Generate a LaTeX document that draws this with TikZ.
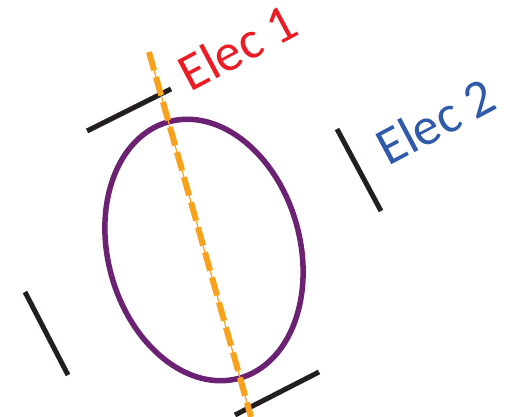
\documentclass[tikz,border=0pt]{standalone}
\usepackage{fontspec}
\setmainfont{Carlito}
\definecolor{elecred}{HTML}{ED1C24}
\definecolor{elecblue}{HTML}{2F5AAA}
\definecolor{ringpurple}{HTML}{6B2272}
\definecolor{axisorange}{HTML}{F8A21C}
\definecolor{plate}{HTML}{231F20}
\tikzset{
  platebar/.style={draw=plate, line width=5pt},
  ring/.style={draw=ringpurple, line width=5.5pt},
  axisthin/.style={draw=axisorange, line width=1.2pt},
  axisdash/.style={draw=axisorange, line width=6pt, dash pattern=on 19pt off 7pt},
  elabel/.style={anchor=base west, rotate=28, font=\fontsize{53}{56}\selectfont, inner sep=0pt}
}
\begin{document}
\begin{tikzpicture}[x=1pt,y=-1pt]
\useasboundingbox (0,0) rectangle (508,417);
% electrode plates
\coordinate (p1a) at (87,131); \coordinate (p1b) at (171,89);
\coordinate (p2a) at (235,415); \coordinate (p2b) at (319,372);
\coordinate (p3a) at (25,292); \coordinate (p3b) at (68,375);
\coordinate (p4a) at (337,129); \coordinate (p4b) at (381,211);
\draw[platebar] (p1a) -- (p1b);
\draw[platebar] (p2a) -- (p2b);
\draw[platebar] (p3a) -- (p3b);
\draw[platebar] (p4a) -- (p4b);
% ellipse
\coordinate (C) at (204,250);
\draw[ring, rotate around={15.5:(C)}] (C) ellipse [x radius=96, y radius=133];
% orange axis
\coordinate (ax1) at (149,52);
\coordinate (ax2) at (251,417);
\draw[axisthin] (ax1) -- (ax2);
\draw[axisdash] (ax1) -- (ax2);
% labels
\node[elabel, text=elecred] (e1) at (190,93) {Elec 1};
\node[elabel, text=elecblue] (e2) at (388,167) {Elec 2};
\end{tikzpicture}
\end{document}
